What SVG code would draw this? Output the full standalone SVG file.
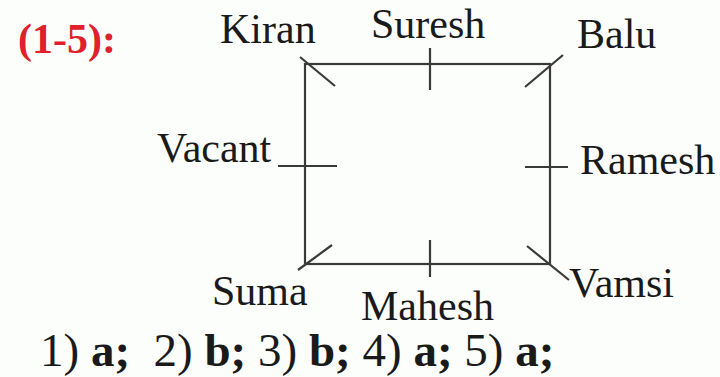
<svg xmlns="http://www.w3.org/2000/svg" width="720" height="377" viewBox="0 0 720 377">
<style>
.lbl{font-family:"Liberation Serif","Times New Roman",serif;font-size:42px;fill:#1a1a1a}
.ttl{font-family:"Liberation Serif","Times New Roman",serif;font-size:42px;font-weight:bold;fill:#e0202a}
.ans{font-family:"Liberation Serif","Times New Roman",serif;font-size:47px;fill:#1a1a1a}
.b{font-weight:bold}
.ln{stroke:#3a3a3a;stroke-width:2.2;fill:none;stroke-linecap:butt}
</style>
<rect width="720" height="377" fill="#fbfefb"/>
<text class="ttl" x="18" y="53">(1-5):</text>
<g id="table">
<rect class="ln" x="305" y="64" width="245" height="200"/>
</g>
<g id="connectors">
<line class="ln" x1="300" y1="57" x2="335" y2="86"/>
<line class="ln" x1="430" y1="48" x2="430" y2="90"/>
<line class="ln" x1="563" y1="55" x2="525" y2="87"/>
<line class="ln" x1="278" y1="166" x2="337" y2="166"/>
<line class="ln" x1="525" y1="167" x2="568" y2="167"/>
<line class="ln" x1="332" y1="245" x2="298" y2="270"/>
<line class="ln" x1="430" y1="240" x2="430" y2="277"/>
<line class="ln" x1="527" y1="246" x2="569" y2="280"/>
</g>
<g id="kiran"><text class="lbl" x="220" y="43">Kiran</text></g>
<g id="suresh"><text class="lbl" x="371" y="38">Suresh</text></g>
<g id="balu"><text class="lbl" x="577" y="48">Balu</text></g>
<g id="vacant"><text class="lbl" x="157" y="162">Vacant</text></g>
<g id="ramesh"><text class="lbl" x="580" y="174">Ramesh</text></g>
<g id="vamsi"><text class="lbl" x="569" y="297">Vamsi</text></g>
<g id="suma"><text class="lbl" x="212" y="305">Suma</text></g>
<g id="mahesh"><text class="lbl" x="361" y="320">Mahesh</text></g>
<text class="ans" x="40" y="366" xml:space="preserve">1) <tspan class="b">a;</tspan>  2) <tspan class="b">b;</tspan> 3) <tspan class="b">b;</tspan> 4) <tspan class="b">a;</tspan> 5) <tspan class="b">a;</tspan></text>
</svg>
